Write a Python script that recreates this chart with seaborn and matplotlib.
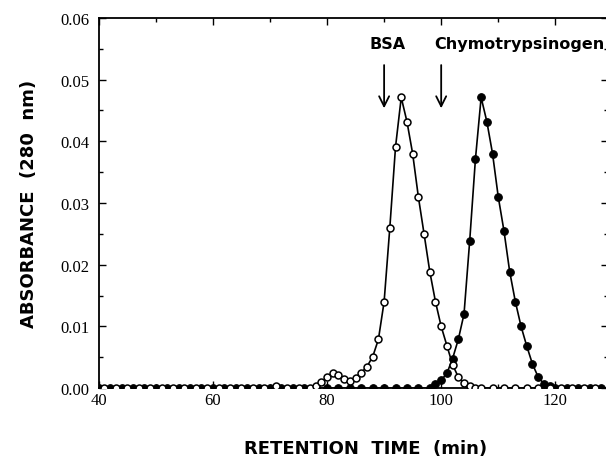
import numpy as np
import pandas as pd
import matplotlib
matplotlib.use("Agg")
import matplotlib.pyplot as plt
from matplotlib.ticker import MultipleLocator
import seaborn as sns

# open circles (BSA run)
bsa_time = list(range(41, 76, 2)) + list(range(77, 108)) + list(range(109, 128, 2))
bsa_abs = ([0.0] * 15 + [0.0003, 0.0, 0.0] +
           [0.0, 0.0004, 0.0010, 0.0018, 0.0025, 0.0022, 0.0015, 0.0012, 0.0017,
            0.0025, 0.0035, 0.0051, 0.0079, 0.0140, 0.0260, 0.0391, 0.0471, 0.0432,
            0.0380, 0.0310, 0.0250, 0.0189, 0.0140, 0.0100, 0.0069, 0.0038, 0.0018,
            0.0008, 0.0004, 0.0001, 0.0] +
           [0.0] * 10)

# filled circles (chymotrypsinogen run)
chy_time = list(range(40, 97, 2)) + list(range(98, 121)) + list(range(122, 129, 2))
chy_abs = ([0.0] * 29 +
           [0.0, 0.0006, 0.0013, 0.0024, 0.0048, 0.0079, 0.0120, 0.0239, 0.0371,
            0.0471, 0.0432, 0.0380, 0.0310, 0.0255, 0.0189, 0.0140, 0.0100, 0.0068,
            0.0039, 0.0018, 0.0007, 0.0004, 0.0] +
           [0.0] * 4)

arrow_labels = ["BSA", "Chymotrypsinogen"]
arrow_x = [90, 100]

sns.set_style("ticks")
plt.rcParams['font.family'] = ['DejaVu Sans']
plt.rcParams.update({"text.color": "black", "axes.labelcolor": "black",
                     "xtick.color": "black", "ytick.color": "black",
                     "axes.edgecolor": "black"})

fig = plt.figure(figsize=(6.06, 4.6), dpi=100)
ax = fig.add_axes([0.163, 0.154, 0.84, 0.805])

bsa = pd.DataFrame({"t": bsa_time, "a": bsa_abs})
chy = pd.DataFrame({"t": chy_time, "a": chy_abs})

sns.lineplot(data=bsa, x="t", y="a", ax=ax, color="black", lw=1.2,
             marker="o", markersize=5, markerfacecolor="white",
             markeredgecolor="black", markeredgewidth=1.1, zorder=3)
sns.lineplot(data=chy, x="t", y="a", ax=ax, color="black", lw=1.2,
             marker="o", markersize=5.5, markerfacecolor="black",
             markeredgecolor="black", zorder=2)

ax.set_xlim(40, 129.2)
ax.set_ylim(0, 0.06)
ax.xaxis.set_major_locator(MultipleLocator(20))
ax.xaxis.set_minor_locator(MultipleLocator(10))
ax.yaxis.set_major_locator(MultipleLocator(0.01))
ax.yaxis.set_minor_locator(MultipleLocator(0.005))
ax.yaxis.set_major_formatter(matplotlib.ticker.FormatStrFormatter('%.2f'))
ax.tick_params(which="both", direction="in", top=True, right=True, width=1)
ax.tick_params(which="major", length=5, labelsize=12)
ax.tick_params(axis="y", which="major", pad=7)
ax.tick_params(axis="x", which="major", pad=3)
ax.tick_params(which="minor", length=3)
for lab in ax.get_xticklabels() + ax.get_yticklabels():
    lab.set_family("Liberation Serif")
for s in ax.spines.values():
    s.set_linewidth(1.3)

ax.set_xlabel("RETENTION  TIME  (min)", fontsize=13, fontweight="bold", labelpad=22)
ax.xaxis.label.set_x(0.525)
ax.set_ylabel("ABSORBANCE  (280  nm)", fontsize=13, fontweight="bold", labelpad=16)

for lab, x in zip(arrow_labels, arrow_x):
    ax.annotate("", xy=(x, 0.0449), xytext=(x, 0.0528),
                arrowprops=dict(arrowstyle="->", color="black", lw=1.3,
                                mutation_scale=18))
ax.text(arrow_x[0] + 0.6, 0.0558, arrow_labels[0], ha="center", va="center",
        fontsize=11.5, fontweight="bold")
ax.text(arrow_x[1] - 1.3, 0.0558, arrow_labels[1], ha="left", va="center",
        fontsize=11.5, fontweight="bold")

fig.savefig("out.png", dpi=100)
